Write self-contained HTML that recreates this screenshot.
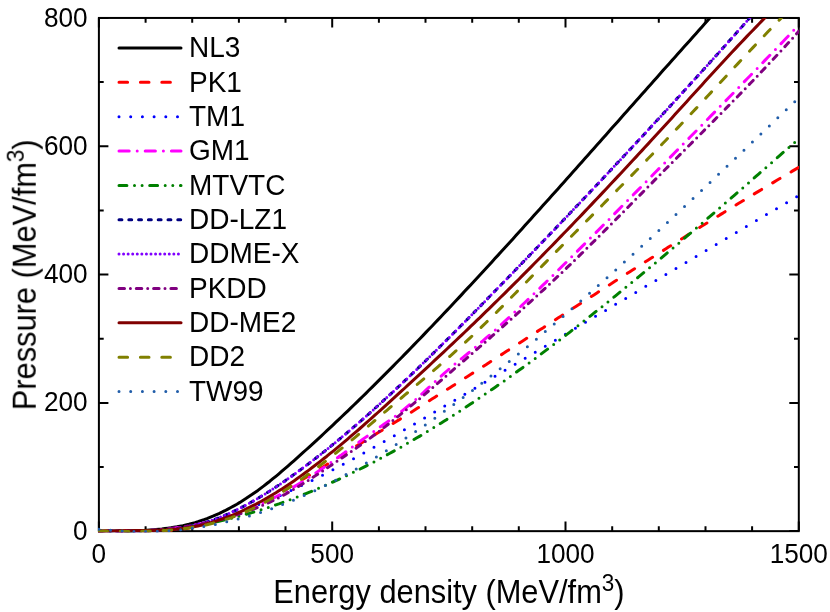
<!DOCTYPE html>
<html><head><meta charset="utf-8"><title>EOS</title>
<style>html,body{margin:0;padding:0;background:#fff;overflow:hidden}svg{display:block}text{font-family:"Liberation Sans",sans-serif;font-kerning:none}</style>
</head><body>
<svg width="830" height="612" viewBox="0 0 830 612">
<rect x="0" y="0" width="830" height="612" fill="#ffffff"/>
<defs><clipPath id="cp"><rect x="98.0" y="18.0" width="701.0" height="514.2"/></clipPath></defs>
<g stroke="#000" stroke-width="2" fill="none" stroke-linecap="butt">
<rect x="98.90" y="17.95" width="699.90" height="513.20"/>
<path d="M98.9 531.1v-9.5M98.9 17.9v9.5M145.6 531.1v-4.8M145.6 17.9v4.8M192.2 531.1v-4.8M192.2 17.9v4.8M238.9 531.1v-4.8M238.9 17.9v4.8M285.5 531.1v-4.8M285.5 17.9v4.8M332.2 531.1v-9.5M332.2 17.9v9.5M378.9 531.1v-4.8M378.9 17.9v4.8M425.5 531.1v-4.8M425.5 17.9v4.8M472.2 531.1v-4.8M472.2 17.9v4.8M518.8 531.1v-4.8M518.8 17.9v4.8M565.5 531.1v-9.5M565.5 17.9v9.5M612.2 531.1v-4.8M612.2 17.9v4.8M658.8 531.1v-4.8M658.8 17.9v4.8M705.5 531.1v-4.8M705.5 17.9v4.8M752.1 531.1v-4.8M752.1 17.9v4.8M798.8 531.1v-9.5M798.8 17.9v9.5M98.9 531.1h9.5M798.8 531.1h-9.5M98.9 467.0h4.8M798.8 467.0h-4.8M98.9 402.9h9.5M798.8 402.9h-9.5M98.9 338.7h4.8M798.8 338.7h-4.8M98.9 274.6h9.5M798.8 274.6h-9.5M98.9 210.4h4.8M798.8 210.4h-4.8M98.9 146.3h9.5M798.8 146.3h-9.5M98.9 82.1h4.8M798.8 82.1h-4.8M98.9 18.0h9.5M798.8 18.0h-9.5"/>
</g>
<g clip-path="url(#cp)" fill="none" stroke-linecap="round" stroke-linejoin="round">
<path d="M98.9 531.2L101.9 531.2L104.9 531.1L107.9 531.1L110.9 531.1L113.9 531.1L116.9 531.1L119.9 531.0L122.9 531.0L125.9 531.0L128.9 530.9L131.9 530.8L134.9 530.8L137.9 530.7L140.9 530.5L143.9 530.4L146.9 530.2L149.9 530.0L152.9 529.8L155.9 529.6L158.9 529.3L161.9 529.0L164.9 528.6L167.9 528.2L170.9 527.8L173.9 527.3L176.9 526.8L179.9 526.2L182.9 525.6L185.9 524.9L188.9 524.2L191.9 523.4L194.9 522.6L197.9 521.7L200.9 520.7L203.9 519.7L206.9 518.6L209.9 517.4L212.9 516.2L215.9 514.9L218.9 513.6L221.9 512.2L224.9 510.7L227.9 509.1L230.9 507.5L233.9 505.9L236.9 504.2L239.9 502.4L242.9 500.5L245.9 498.6L248.9 496.6L251.9 494.6L254.9 492.5L257.9 490.4L260.9 488.1L263.9 485.9L266.9 483.5L269.9 481.2L272.9 478.7L275.9 476.3L278.9 473.8L281.9 471.2L284.9 468.7L287.9 466.1L290.9 463.4L293.9 460.8L296.9 458.1L299.9 455.4L302.9 452.7L305.9 450.0L308.9 447.3L311.9 444.6L314.9 441.8L317.9 439.1L320.9 436.3L323.9 433.5L326.9 430.7L329.9 427.9L332.9 425.1L335.9 422.2L338.9 419.4L341.9 416.5L344.9 413.7L347.9 410.8L350.9 407.9L353.9 405.0L356.9 402.1L359.9 399.2L362.9 396.2L365.9 393.3L368.9 390.3L371.9 387.4L374.9 384.4L377.9 381.4L380.9 378.4L383.9 375.4L386.9 372.4L389.9 369.4L392.9 366.4L395.9 363.3L398.9 360.3L401.9 357.2L404.9 354.1L407.9 351.1L410.9 348.0L413.9 344.9L416.9 341.8L419.9 338.7L422.9 335.6L425.9 332.4L428.9 329.3L431.9 326.2L434.9 323.0L437.9 319.9L440.9 316.7L443.9 313.5L446.9 310.4L449.9 307.2L452.9 304.0L455.9 300.8L458.9 297.6L461.9 294.4L464.9 291.1L467.9 287.9L470.9 284.7L473.9 281.5L476.9 278.2L479.9 275.0L482.9 271.7L485.9 268.5L488.9 265.2L491.9 261.9L494.9 258.6L497.9 255.4L500.9 252.1L503.9 248.8L506.9 245.5L509.9 242.2L512.9 238.9L515.9 235.6L518.9 232.3L521.9 229.0L524.9 225.6L527.9 222.3L530.9 219.0L533.9 215.6L536.9 212.3L539.9 209.0L542.9 205.6L545.9 202.3L548.9 198.9L551.9 195.6L554.9 192.2L557.9 188.9L560.9 185.5L563.9 182.2L566.9 178.8L569.9 175.4L572.9 172.1L575.9 168.7L578.9 165.3L581.9 161.9L584.9 158.6L587.9 155.2L590.9 151.8L593.9 148.4L596.9 145.1L599.9 141.7L602.9 138.3L605.9 134.9L608.9 131.5L611.9 128.1L614.9 124.8L617.9 121.4L620.9 118.0L623.9 114.6L626.9 111.2L629.9 107.8L632.9 104.4L635.9 101.1L638.9 97.7L641.9 94.3L644.9 90.9L647.9 87.5L650.9 84.2L653.9 80.8L656.9 77.4L659.9 74.0L662.9 70.6L665.9 67.3L668.9 63.9L671.9 60.5L674.9 57.2L677.9 53.8L680.9 50.4L683.9 47.1L686.9 43.7L689.9 40.4L692.9 37.0L695.9 33.7L698.9 30.3L701.9 27.0L704.9 23.6L707.9 20.3L709.0 19.1L721.0 5.7" stroke="#000000" stroke-width="3.0"/>
<path d="M98.9 531.4L101.9 531.2L104.9 531.0L107.9 530.9L110.9 530.8L113.9 530.7L116.9 530.7L119.9 530.7L122.9 530.7L125.9 530.7L128.9 530.7L131.9 530.8L134.9 530.8L137.9 530.9L140.9 530.9L143.9 530.9L146.9 530.9L149.9 530.9L152.9 530.9L155.9 530.9L158.9 530.8L161.9 530.7L164.9 530.6L167.9 530.4L170.9 530.2L173.9 530.0L176.9 529.7L179.9 529.3L182.9 528.9L185.9 528.5L188.9 528.0L191.9 527.4L194.9 526.8L197.9 526.2L200.9 525.5L203.9 524.8L206.9 524.0L209.9 523.1L212.9 522.3L215.9 521.3L218.9 520.4L221.9 519.4L224.9 518.3L227.9 517.2L230.9 516.1L233.9 514.9L236.9 513.7L239.9 512.5L242.9 511.2L245.9 509.9L248.9 508.5L251.9 507.2L254.9 505.7L257.9 504.3L260.9 502.8L263.9 501.3L266.9 499.7L269.9 498.2L272.9 496.6L275.9 494.9L278.9 493.3L281.9 491.6L284.9 489.9L287.9 488.2L290.9 486.5L293.9 484.7L296.9 482.9L299.9 481.1L302.9 479.3L305.9 477.5L308.9 475.7L311.9 473.8L314.9 472.0L317.9 470.1L320.9 468.3L323.9 466.4L326.9 464.5L329.9 462.6L332.9 460.7L335.9 458.9L338.9 457.0L341.9 455.1L344.9 453.2L347.9 451.3L350.9 449.5L353.9 447.6L356.9 445.7L359.9 443.9L362.9 442.0L365.9 440.2L368.9 438.3L371.9 436.5L374.9 434.6L377.9 432.8L380.9 431.0L383.9 429.1L386.9 427.3L389.9 425.4L392.9 423.6L395.9 421.7L398.9 419.9L401.9 418.0L404.9 416.1L407.9 414.2L410.9 412.4L413.9 410.5L416.9 408.6L419.9 406.7L422.9 404.8L425.9 402.9L428.9 401.0L431.9 399.1L434.9 397.2L437.9 395.3L440.9 393.4L443.9 391.5L446.9 389.6L449.9 387.7L452.9 385.8L455.9 383.9L458.9 382.0L461.9 380.0L464.9 378.1L467.9 376.2L470.9 374.3L473.9 372.4L476.9 370.4L479.9 368.5L482.9 366.6L485.9 364.7L488.9 362.7L491.9 360.8L494.9 358.9L497.9 356.9L500.9 355.0L503.9 353.1L506.9 351.1L509.9 349.2L512.9 347.3L515.9 345.3L518.9 343.4L521.9 341.4L524.9 339.5L527.9 337.6L530.9 335.6L533.9 333.7L536.9 331.7L539.9 329.8L542.9 327.9L545.9 325.9L548.9 324.0L551.9 322.0L554.9 320.1L557.9 318.1L560.9 316.2L563.9 314.3L566.9 312.3L569.9 310.4L572.9 308.4L575.9 306.5L578.9 304.6L581.9 302.6L584.9 300.7L587.9 298.7L590.9 296.8L593.9 294.9L596.9 292.9L599.9 291.0L602.9 289.1L605.9 287.1L608.9 285.2L611.9 283.3L614.9 281.3L617.9 279.4L620.9 277.5L623.9 275.6L626.9 273.6L629.9 271.7L632.9 269.8L635.9 267.9L638.9 265.9L641.9 264.0L644.9 262.1L647.9 260.2L650.9 258.3L653.9 256.4L656.9 254.5L659.9 252.6L662.9 250.7L665.9 248.8L668.9 246.8L671.9 245.0L674.9 243.1L677.9 241.2L680.9 239.3L683.9 237.4L686.9 235.5L689.9 233.6L692.9 231.7L695.9 229.8L698.9 228.0L701.9 226.1L704.9 224.2L707.9 222.4L710.9 220.5L713.9 218.6L716.9 216.8L719.9 214.9L722.9 213.1L725.9 211.2L728.9 209.4L731.9 207.5L734.9 205.7L737.9 203.8L740.9 202.0L743.9 200.2L746.9 198.3L749.9 196.5L752.9 194.7L755.9 192.9L758.9 191.1L761.9 189.3L764.9 187.5L767.9 185.7L770.9 183.9L773.9 182.1L776.9 180.3L779.9 178.5L782.9 176.7L785.9 174.9L788.9 173.2L791.9 171.4L794.9 169.6L797.9 167.9L798.7 167.4" stroke="#ff0000" stroke-width="3.0" stroke-dasharray="8.6 12.8"/>
<path d="M98.9 529.9L101.9 530.3L104.9 530.7L107.9 531.0L110.9 531.3L113.9 531.4L116.9 531.4L119.9 531.4L122.9 531.4L125.9 531.4L128.9 531.4L131.9 531.4L134.9 531.4L137.9 531.4L140.9 531.4L143.9 531.4L146.9 531.4L149.9 531.4L152.9 531.4L155.9 531.3L158.9 531.0L161.9 530.7L164.9 530.3L167.9 529.9L170.9 529.5L173.9 529.1L176.9 528.6L179.9 528.1L182.9 527.5L185.9 527.0L188.9 526.3L191.9 525.7L194.9 525.0L197.9 524.3L200.9 523.6L203.9 522.9L206.9 522.1L209.9 521.3L212.9 520.4L215.9 519.6L218.9 518.7L221.9 517.8L224.9 516.8L227.9 515.8L230.9 514.8L233.9 513.8L236.9 512.8L239.9 511.7L242.9 510.6L245.9 509.5L248.9 508.4L251.9 507.3L254.9 506.1L257.9 504.9L260.9 503.7L263.9 502.5L266.9 501.2L269.9 499.9L272.9 498.6L275.9 497.3L278.9 496.0L281.9 494.7L284.9 493.3L287.9 492.0L290.9 490.6L293.9 489.2L296.9 487.8L299.9 486.3L302.9 484.9L305.9 483.4L308.9 482.0L311.9 480.5L314.9 479.0L317.9 477.5L320.9 476.0L323.9 474.4L326.9 472.9L329.9 471.3L332.9 469.8L335.9 468.2L338.9 466.6L341.9 465.0L344.9 463.4L347.9 461.8L350.9 460.2L353.9 458.5L356.9 456.9L359.9 455.2L362.9 453.6L365.9 451.9L368.9 450.2L371.9 448.5L374.9 446.8L377.9 445.1L380.9 443.4L383.9 441.7L386.9 440.0L389.9 438.3L392.9 436.6L395.9 434.8L398.9 433.1L401.9 431.3L404.9 429.6L407.9 427.8L410.9 426.1L413.9 424.3L416.9 422.6L419.9 420.8L422.9 419.0L425.9 417.3L428.9 415.5L431.9 413.7L434.9 411.9L437.9 410.2L440.9 408.4L443.9 406.6L446.9 404.8L449.9 403.0L452.9 401.2L455.9 399.5L458.9 397.7L461.9 395.9L464.9 394.1L467.9 392.3L470.9 390.5L473.9 388.8L476.9 387.0L479.9 385.2L482.9 383.4L485.9 381.6L488.9 379.8L491.9 378.1L494.9 376.3L497.9 374.5L500.9 372.7L503.9 370.9L506.9 369.1L509.9 367.4L512.9 365.6L515.9 363.8L518.9 362.0L521.9 360.2L524.9 358.4L527.9 356.6L530.9 354.8L533.9 353.1L536.9 351.3L539.9 349.5L542.9 347.7L545.9 345.9L548.9 344.1L551.9 342.3L554.9 340.6L557.9 338.8L560.9 337.0L563.9 335.2L566.9 333.4L569.9 331.6L572.9 329.8L575.9 328.0L578.9 326.3L581.9 324.5L584.9 322.7L587.9 320.9L590.9 319.1L593.9 317.3L596.9 315.5L599.9 313.7L602.9 312.0L605.9 310.2L608.9 308.4L611.9 306.6L614.9 304.8L617.9 303.0L620.9 301.2L623.9 299.4L626.9 297.7L629.9 295.9L632.9 294.1L635.9 292.3L638.9 290.5L641.9 288.7L644.9 286.9L647.9 285.1L650.9 283.4L653.9 281.6L656.9 279.8L659.9 278.0L662.9 276.2L665.9 274.4L668.9 272.6L671.9 270.8L674.9 269.1L677.9 267.3L680.9 265.5L683.9 263.7L686.9 261.9L689.9 260.1L692.9 258.3L695.9 256.6L698.9 254.8L701.9 253.0L704.9 251.2L707.9 249.4L710.9 247.6L713.9 245.8L716.9 244.1L719.9 242.3L722.9 240.5L725.9 238.7L728.9 236.9L731.9 235.1L734.9 233.4L737.9 231.6L740.9 229.8L743.9 228.0L746.9 226.2L749.9 224.4L752.9 222.7L755.9 220.9L758.9 219.1L761.9 217.3L764.9 215.5L767.9 213.8L770.9 212.0L773.9 210.2L776.9 208.4L779.9 206.6L782.9 204.9L785.9 203.1L788.9 201.3L791.9 199.5L794.9 197.7L797.9 196.0L798.8 195.4" stroke="#0000ff" stroke-width="3.0" stroke-dasharray="0 11.7"/>
<path d="M98.9 531.1L101.9 531.2L104.9 531.3L107.9 531.3L110.9 531.4L113.9 531.4L116.9 531.4L119.9 531.4L122.9 531.4L125.9 531.4L128.9 531.3L131.9 531.3L134.9 531.2L137.9 531.1L140.9 531.0L143.9 530.8L146.9 530.7L149.9 530.5L152.9 530.3L155.9 530.1L158.9 529.8L161.9 529.5L164.9 529.2L167.9 528.9L170.9 528.6L173.9 528.2L176.9 527.8L179.9 527.4L182.9 526.9L185.9 526.5L188.9 526.0L191.9 525.4L194.9 524.9L197.9 524.3L200.9 523.6L203.9 523.0L206.9 522.3L209.9 521.6L212.9 520.8L215.9 520.1L218.9 519.2L221.9 518.4L224.9 517.5L227.9 516.6L230.9 515.6L233.9 514.6L236.9 513.6L239.9 512.5L242.9 511.4L245.9 510.3L248.9 509.1L251.9 507.9L254.9 506.6L257.9 505.3L260.9 504.0L263.9 502.6L266.9 501.2L269.9 499.8L272.9 498.3L275.9 496.8L278.9 495.2L281.9 493.6L284.9 492.0L287.9 490.3L290.9 488.6L293.9 486.9L296.9 485.1L299.9 483.2L302.9 481.4L305.9 479.5L308.9 477.5L311.9 475.6L314.9 473.6L317.9 471.5L320.9 469.5L323.9 467.4L326.9 465.3L329.9 463.2L332.9 461.1L335.9 458.9L338.9 456.8L341.9 454.6L344.9 452.4L347.9 450.2L350.9 448.0L353.9 445.9L356.9 443.7L359.9 441.5L362.9 439.3L365.9 437.1L368.9 435.0L371.9 432.8L374.9 430.7L377.9 428.5L380.9 426.4L383.9 424.3L386.9 422.2L389.9 420.1L392.9 417.9L395.9 415.7L398.9 413.4L401.9 411.1L404.9 408.7L407.9 406.2L410.9 403.7L413.9 401.1L416.9 398.4L419.9 395.7L422.9 393.0L425.9 390.2L428.9 387.4L431.9 384.7L434.9 381.9L437.9 379.1L440.9 376.4L443.9 373.7L446.9 371.0L449.9 368.4L452.9 365.8L455.9 363.3L458.9 360.8L461.9 358.4L464.9 355.9L467.9 353.5L470.9 351.0L473.9 348.5L476.9 346.0L479.9 343.4L482.9 340.8L485.9 338.2L488.9 335.6L491.9 332.9L494.9 330.3L497.9 327.6L500.9 324.9L503.9 322.1L506.9 319.4L509.9 316.6L512.9 313.8L515.9 311.0L518.9 308.2L521.9 305.4L524.9 302.5L527.9 299.7L530.9 296.8L533.9 293.9L536.9 291.0L539.9 288.1L542.9 285.2L545.9 282.3L548.9 279.3L551.9 276.4L554.9 273.4L557.9 270.5L560.9 267.5L563.9 264.5L566.9 261.6L569.9 258.6L572.9 255.6L575.9 252.6L578.9 249.6L581.9 246.6L584.9 243.6L587.9 240.6L590.9 237.6L593.9 234.6L596.9 231.6L599.9 228.6L602.9 225.5L605.9 222.5L608.9 219.5L611.9 216.5L614.9 213.4L617.9 210.4L620.9 207.3L623.9 204.3L626.9 201.3L629.9 198.2L632.9 195.2L635.9 192.1L638.9 189.1L641.9 186.0L644.9 183.0L647.9 179.9L650.9 176.9L653.9 173.8L656.9 170.8L659.9 167.7L662.9 164.7L665.9 161.7L668.9 158.6L671.9 155.6L674.9 152.5L677.9 149.5L680.9 146.4L683.9 143.4L686.9 140.3L689.9 137.3L692.9 134.2L695.9 131.2L698.9 128.1L701.9 125.1L704.9 122.0L707.9 119.0L710.9 115.9L713.9 112.9L716.9 109.8L719.9 106.7L722.9 103.7L725.9 100.6L728.9 97.5L731.9 94.5L734.9 91.4L737.9 88.3L740.9 85.2L743.9 82.1L746.9 79.0L749.9 76.0L752.9 72.9L755.9 69.8L758.9 66.7L761.9 63.6L764.9 60.4L767.9 57.3L770.9 54.2L773.9 51.1L776.9 47.9L779.9 44.8L782.9 41.7L785.9 38.5L788.9 35.4L791.9 32.2L794.9 29.1L797.9 25.9L799.0 24.7" stroke="#ff00ff" stroke-width="3.0" stroke-dasharray="10.29 8.07 0 8.07" stroke-dashoffset="8.88"/>
<path d="M98.9 530.9L101.9 531.1L104.9 531.3L107.9 531.4L110.9 531.4L113.9 531.4L116.9 531.4L119.9 531.4L122.9 531.4L125.9 531.4L128.9 531.4L131.9 531.4L134.9 531.4L137.9 531.4L140.9 531.4L143.9 531.4L146.9 531.3L149.9 531.1L152.9 530.9L155.9 530.7L158.9 530.5L161.9 530.2L164.9 530.0L167.9 529.6L170.9 529.3L173.9 529.0L176.9 528.6L179.9 528.2L182.9 527.8L185.9 527.4L188.9 526.9L191.9 526.4L194.9 525.9L197.9 525.4L200.9 524.9L203.9 524.3L206.9 523.7L209.9 523.1L212.9 522.5L215.9 521.9L218.9 521.2L221.9 520.5L224.9 519.8L227.9 519.1L230.9 518.4L233.9 517.6L236.9 516.8L239.9 516.0L242.9 515.2L245.9 514.3L248.9 513.5L251.9 512.6L254.9 511.7L257.9 510.8L260.9 509.9L263.9 508.9L266.9 507.9L269.9 506.9L272.9 505.9L275.9 504.9L278.9 503.9L281.9 502.8L284.9 501.7L287.9 500.6L290.9 499.5L293.9 498.4L296.9 497.2L299.9 496.0L302.9 494.8L305.9 493.6L308.9 492.4L311.9 491.2L314.9 489.9L317.9 488.6L320.9 487.4L323.9 486.0L326.9 484.7L329.9 483.4L332.9 482.0L335.9 480.7L338.9 479.3L341.9 477.9L344.9 476.4L347.9 475.0L350.9 473.6L353.9 472.1L356.9 470.6L359.9 469.1L362.9 467.6L365.9 466.1L368.9 464.5L371.9 463.0L374.9 461.4L377.9 459.8L380.9 458.2L383.9 456.6L386.9 454.9L389.9 453.3L392.9 451.6L395.9 450.0L398.9 448.3L401.9 446.6L404.9 444.8L407.9 443.1L410.9 441.4L413.9 439.6L416.9 437.8L419.9 436.1L422.9 434.3L425.9 432.4L428.9 430.6L431.9 428.8L434.9 426.9L437.9 425.1L440.9 423.2L443.9 421.3L446.9 419.4L449.9 417.5L452.9 415.6L455.9 413.6L458.9 411.7L461.9 409.7L464.9 407.8L467.9 405.8L470.9 403.8L473.9 401.8L476.9 399.7L479.9 397.7L482.9 395.7L485.9 393.6L488.9 391.6L491.9 389.5L494.9 387.4L497.9 385.3L500.9 383.2L503.9 381.1L506.9 378.9L509.9 376.8L512.9 374.7L515.9 372.5L518.9 370.3L521.9 368.2L524.9 366.0L527.9 363.8L530.9 361.6L533.9 359.4L536.9 357.1L539.9 354.9L542.9 352.6L545.9 350.4L548.9 348.1L551.9 345.9L554.9 343.6L557.9 341.3L560.9 339.0L563.9 336.7L566.9 334.4L569.9 332.1L572.9 329.7L575.9 327.4L578.9 325.0L581.9 322.7L584.9 320.3L587.9 318.0L590.9 315.6L593.9 313.2L596.9 310.8L599.9 308.4L602.9 306.0L605.9 303.6L608.9 301.2L611.9 298.8L614.9 296.3L617.9 293.9L620.9 291.4L623.9 289.0L626.9 286.5L629.9 284.1L632.9 281.6L635.9 279.1L638.9 276.7L641.9 274.2L644.9 271.7L647.9 269.2L650.9 266.7L653.9 264.2L656.9 261.6L659.9 259.1L662.9 256.6L665.9 254.1L668.9 251.5L671.9 249.0L674.9 246.5L677.9 243.9L680.9 241.4L683.9 238.8L686.9 236.2L689.9 233.7L692.9 231.1L695.9 228.5L698.9 226.0L701.9 223.4L704.9 220.8L707.9 218.2L710.9 215.6L713.9 213.0L716.9 210.4L719.9 207.8L722.9 205.2L725.9 202.6L728.9 200.0L731.9 197.4L734.9 194.8L737.9 192.2L740.9 189.6L743.9 186.9L746.9 184.3L749.9 181.7L752.9 179.1L755.9 176.4L758.9 173.8L761.9 171.2L764.9 168.5L767.9 165.9L770.9 163.3L773.9 160.6L776.9 158.0L779.9 155.4L782.9 152.7L785.9 150.1L788.9 147.4L791.9 144.8L794.9 142.2L795.0 142.1" stroke="#008000" stroke-width="3.0" stroke-dasharray="7.9 7.6 0 7.6 0 7.6" stroke-dashoffset="4.5"/>
<path d="M98.9 531.0L101.9 531.0L104.9 531.0L107.9 531.0L110.9 531.0L113.9 531.0L116.9 531.0L119.9 531.0L122.9 531.0L125.9 531.0L128.9 531.1L131.9 531.1L134.9 531.0L137.9 531.0L140.9 531.0L143.9 530.9L146.9 530.9L149.9 530.8L152.9 530.7L155.9 530.5L158.9 530.4L161.9 530.2L164.9 529.9L167.9 529.7L170.9 529.4L173.9 529.0L176.9 528.7L179.9 528.2L182.9 527.7L185.9 527.2L188.9 526.6L191.9 526.0L194.9 525.3L197.9 524.6L200.9 523.8L203.9 522.9L206.9 522.0L209.9 521.0L212.9 520.0L215.9 518.9L218.9 517.7L221.9 516.5L224.9 515.3L227.9 513.9L230.9 512.6L233.9 511.2L236.9 509.7L239.9 508.2L242.9 506.7L245.9 505.1L248.9 503.5L251.9 501.8L254.9 500.1L257.9 498.3L260.9 496.5L263.9 494.7L266.9 492.8L269.9 490.9L272.9 489.0L275.9 487.0L278.9 485.0L281.9 483.0L284.9 480.9L287.9 478.8L290.9 476.7L293.9 474.6L296.9 472.4L299.9 470.2L302.9 468.0L305.9 465.7L308.9 463.5L311.9 461.2L314.9 458.9L317.9 456.5L320.9 454.2L323.9 451.8L326.9 449.4L329.9 447.0L332.9 444.5L335.9 442.1L338.9 439.6L341.9 437.1L344.9 434.6L347.9 432.0L350.9 429.5L353.9 426.9L356.9 424.3L359.9 421.7L362.9 419.1L365.9 416.4L368.9 413.8L371.9 411.1L374.9 408.4L377.9 405.7L380.9 403.0L383.9 400.2L386.9 397.5L389.9 394.7L392.9 391.9L395.9 389.1L398.9 386.3L401.9 383.5L404.9 380.7L407.9 377.8L410.9 374.9L413.9 372.1L416.9 369.2L419.9 366.3L422.9 363.4L425.9 360.5L428.9 357.5L431.9 354.6L434.9 351.7L437.9 348.7L440.9 345.7L443.9 342.8L446.9 339.8L449.9 336.8L452.9 333.8L455.9 330.8L458.9 327.8L461.9 324.7L464.9 321.7L467.9 318.7L470.9 315.6L473.9 312.6L476.9 309.5L479.9 306.5L482.9 303.4L485.9 300.3L488.9 297.3L491.9 294.2L494.9 291.1L497.9 288.0L500.9 285.0L503.9 281.9L506.9 278.8L509.9 275.7L512.9 272.6L515.9 269.5L518.9 266.4L521.9 263.3L524.9 260.2L527.9 257.1L530.9 254.0L533.9 250.8L536.9 247.7L539.9 244.6L542.9 241.5L545.9 238.4L548.9 235.2L551.9 232.1L554.9 229.0L557.9 225.8L560.9 222.7L563.9 219.6L566.9 216.4L569.9 213.3L572.9 210.1L575.9 206.9L578.9 203.8L581.9 200.6L584.9 197.5L587.9 194.3L590.9 191.1L593.9 188.0L596.9 184.8L599.9 181.6L602.9 178.4L605.9 175.2L608.9 172.0L611.9 168.8L614.9 165.6L617.9 162.4L620.9 159.2L623.9 156.0L626.9 152.8L629.9 149.6L632.9 146.4L635.9 143.2L638.9 139.9L641.9 136.7L644.9 133.5L647.9 130.2L650.9 127.0L653.9 123.7L656.9 120.5L659.9 117.2L662.9 114.0L665.9 110.7L668.9 107.5L671.9 104.2L674.9 100.9L677.9 97.6L680.9 94.4L683.9 91.1L686.9 87.8L689.9 84.5L692.9 81.2L695.9 77.9L698.9 74.6L701.9 71.3L704.9 68.0L707.9 64.7L710.9 61.3L713.9 58.0L716.9 54.7L719.9 51.4L722.9 48.0L725.9 44.7L728.9 41.3L731.9 38.0L734.9 34.6L737.9 31.2L740.9 27.9L743.9 24.5L746.9 21.1L749.8 17.9L761.8 4.4" stroke="#000080" stroke-width="3.0" stroke-dasharray="2.9 6.9"/>
<path d="M98.9 531.0L101.9 531.0L104.9 531.0L107.9 531.0L110.9 531.0L113.9 531.0L116.9 531.0L119.9 531.0L122.9 531.0L125.9 531.0L128.9 531.1L131.9 531.1L134.9 531.0L137.9 531.0L140.9 531.0L143.9 530.9L146.9 530.9L149.9 530.8L152.9 530.7L155.9 530.5L158.9 530.4L161.9 530.2L164.9 529.9L167.9 529.7L170.9 529.4L173.9 529.0L176.9 528.7L179.9 528.2L182.9 527.7L185.9 527.2L188.9 526.6L191.9 526.0L194.9 525.3L197.9 524.6L200.9 523.8L203.9 522.9L206.9 522.0L209.9 521.0L212.9 520.0L215.9 518.9L218.9 517.7L221.9 516.5L224.9 515.3L227.9 513.9L230.9 512.6L233.9 511.2L236.9 509.7L239.9 508.2L242.9 506.7L245.9 505.1L248.9 503.5L251.9 501.8L254.9 500.1L257.9 498.3L260.9 496.5L263.9 494.7L266.9 492.8L269.9 490.9L272.9 489.0L275.9 487.0L278.9 485.0L281.9 483.0L284.9 480.9L287.9 478.8L290.9 476.7L293.9 474.6L296.9 472.4L299.9 470.2L302.9 468.0L305.9 465.7L308.9 463.5L311.9 461.2L314.9 458.9L317.9 456.5L320.9 454.2L323.9 451.8L326.9 449.4L329.9 447.0L332.9 444.5L335.9 442.1L338.9 439.6L341.9 437.1L344.9 434.6L347.9 432.0L350.9 429.5L353.9 426.9L356.9 424.3L359.9 421.7L362.9 419.1L365.9 416.4L368.9 413.8L371.9 411.1L374.9 408.4L377.9 405.7L380.9 403.0L383.9 400.2L386.9 397.5L389.9 394.7L392.9 391.9L395.9 389.1L398.9 386.3L401.9 383.5L404.9 380.7L407.9 377.8L410.9 374.9L413.9 372.1L416.9 369.2L419.9 366.3L422.9 363.4L425.9 360.5L428.9 357.5L431.9 354.6L434.9 351.7L437.9 348.7L440.9 345.7L443.9 342.8L446.9 339.8L449.9 336.8L452.9 333.8L455.9 330.8L458.9 327.8L461.9 324.7L464.9 321.7L467.9 318.7L470.9 315.6L473.9 312.6L476.9 309.5L479.9 306.5L482.9 303.4L485.9 300.3L488.9 297.3L491.9 294.2L494.9 291.1L497.9 288.0L500.9 285.0L503.9 281.9L506.9 278.8L509.9 275.7L512.9 272.6L515.9 269.5L518.9 266.4L521.9 263.3L524.9 260.2L527.9 257.1L530.9 254.0L533.9 250.8L536.9 247.7L539.9 244.6L542.9 241.5L545.9 238.4L548.9 235.2L551.9 232.1L554.9 229.0L557.9 225.8L560.9 222.7L563.9 219.6L566.9 216.4L569.9 213.3L572.9 210.1L575.9 206.9L578.9 203.8L581.9 200.6L584.9 197.5L587.9 194.3L590.9 191.1L593.9 188.0L596.9 184.8L599.9 181.6L602.9 178.4L605.9 175.2L608.9 172.0L611.9 168.8L614.9 165.6L617.9 162.4L620.9 159.2L623.9 156.0L626.9 152.8L629.9 149.6L632.9 146.4L635.9 143.2L638.9 139.9L641.9 136.7L644.9 133.5L647.9 130.2L650.9 127.0L653.9 123.7L656.9 120.5L659.9 117.2L662.9 114.0L665.9 110.7L668.9 107.5L671.9 104.2L674.9 100.9L677.9 97.6L680.9 94.4L683.9 91.1L686.9 87.8L689.9 84.5L692.9 81.2L695.9 77.9L698.9 74.6L701.9 71.3L704.9 68.0L707.9 64.7L710.9 61.3L713.9 58.0L716.9 54.7L719.9 51.4L722.9 48.0L725.9 44.7L728.9 41.3L731.9 38.0L734.9 34.6L737.9 31.2L740.9 27.9L743.9 24.5L746.9 21.1L749.8 17.9L761.8 4.4" stroke="#8000ff" stroke-width="3.0" stroke-dasharray="0 4.57"/>
<path d="M98.9 531.2L101.9 531.3L104.9 531.3L107.9 531.4L110.9 531.4L113.9 531.4L116.9 531.4L119.9 531.4L122.9 531.4L125.9 531.4L128.9 531.3L131.9 531.2L134.9 531.2L137.9 531.0L140.9 530.9L143.9 530.8L146.9 530.6L149.9 530.4L152.9 530.2L155.9 529.9L158.9 529.7L161.9 529.4L164.9 529.1L167.9 528.8L170.9 528.5L173.9 528.1L176.9 527.7L179.9 527.3L182.9 526.9L185.9 526.4L188.9 526.0L191.9 525.5L194.9 524.9L197.9 524.4L200.9 523.8L203.9 523.2L206.9 522.6L209.9 521.9L212.9 521.3L215.9 520.6L218.9 519.8L221.9 519.1L224.9 518.3L227.9 517.5L230.9 516.6L233.9 515.7L236.9 514.8L239.9 513.9L242.9 512.9L245.9 511.9L248.9 510.8L251.9 509.7L254.9 508.5L257.9 507.3L260.9 506.1L263.9 504.8L266.9 503.5L269.9 502.1L272.9 500.7L275.9 499.2L278.9 497.6L281.9 496.0L284.9 494.4L287.9 492.7L290.9 491.0L293.9 489.2L296.9 487.5L299.9 485.6L302.9 483.8L305.9 481.9L308.9 480.0L311.9 478.0L314.9 476.1L317.9 474.1L320.9 472.1L323.9 470.1L326.9 468.1L329.9 466.1L332.9 464.1L335.9 462.1L338.9 460.0L341.9 458.0L344.9 455.9L347.9 453.9L350.9 451.8L353.9 449.7L356.9 447.6L359.9 445.5L362.9 443.3L365.9 441.1L368.9 439.0L371.9 436.8L374.9 434.5L377.9 432.3L380.9 430.0L383.9 427.7L386.9 425.3L389.9 423.0L392.9 420.6L395.9 418.2L398.9 415.8L401.9 413.3L404.9 410.9L407.9 408.4L410.9 405.9L413.9 403.4L416.9 400.9L419.9 398.4L422.9 395.9L425.9 393.3L428.9 390.8L431.9 388.2L434.9 385.6L437.9 383.1L440.9 380.5L443.9 377.9L446.9 375.3L449.9 372.7L452.9 370.1L455.9 367.5L458.9 364.9L461.9 362.3L464.9 359.8L467.9 357.2L470.9 354.6L473.9 351.9L476.9 349.3L479.9 346.7L482.9 344.1L485.9 341.5L488.9 338.9L491.9 336.2L494.9 333.6L497.9 330.9L500.9 328.3L503.9 325.6L506.9 323.0L509.9 320.3L512.9 317.6L515.9 314.9L518.9 312.2L521.9 309.5L524.9 306.8L527.9 304.1L530.9 301.4L533.9 298.6L536.9 295.9L539.9 293.1L542.9 290.3L545.9 287.6L548.9 284.8L551.9 282.0L554.9 279.1L557.9 276.3L560.9 273.5L563.9 270.6L566.9 267.7L569.9 264.9L572.9 262.0L575.9 259.0L578.9 256.1L581.9 253.2L584.9 250.3L587.9 247.3L590.9 244.3L593.9 241.4L596.9 238.4L599.9 235.4L602.9 232.4L605.9 229.4L608.9 226.4L611.9 223.4L614.9 220.4L617.9 217.4L620.9 214.3L623.9 211.3L626.9 208.3L629.9 205.2L632.9 202.2L635.9 199.2L638.9 196.1L641.9 193.1L644.9 190.0L647.9 187.0L650.9 184.0L653.9 180.9L656.9 177.9L659.9 174.9L662.9 171.8L665.9 168.8L668.9 165.8L671.9 162.8L674.9 159.8L677.9 156.8L680.9 153.7L683.9 150.7L686.9 147.7L689.9 144.7L692.9 141.7L695.9 138.7L698.9 135.7L701.9 132.7L704.9 129.6L707.9 126.6L710.9 123.6L713.9 120.6L716.9 117.5L719.9 114.5L722.9 111.5L725.9 108.4L728.9 105.4L731.9 102.3L734.9 99.2L737.9 96.2L740.9 93.1L743.9 90.0L746.9 86.9L749.9 83.8L752.9 80.7L755.9 77.5L758.9 74.4L761.9 71.2L764.9 68.1L767.9 64.9L770.9 61.7L773.9 58.5L776.9 55.3L779.9 52.1L782.9 48.8L785.9 45.5L788.9 42.3L791.9 39.0L794.9 35.7L797.9 32.3L799.0 31.1" stroke="#800080" stroke-width="3.0" stroke-dasharray="5.5 5.9 0 5.9"/>
<path d="M98.9 531.4L101.9 531.4L104.9 531.2L107.9 531.1L110.9 531.0L113.9 530.9L116.9 530.8L119.9 530.8L122.9 530.7L125.9 530.7L128.9 530.7L131.9 530.7L134.9 530.6L137.9 530.6L140.9 530.6L143.9 530.6L146.9 530.5L149.9 530.5L152.9 530.4L155.9 530.3L158.9 530.2L161.9 530.1L164.9 530.0L167.9 529.8L170.9 529.6L173.9 529.4L176.9 529.1L179.9 528.8L182.9 528.4L185.9 528.0L188.9 527.6L191.9 527.1L194.9 526.6L197.9 526.0L200.9 525.3L203.9 524.6L206.9 523.8L209.9 523.0L212.9 522.1L215.9 521.2L218.9 520.2L221.9 519.2L224.9 518.1L227.9 517.0L230.9 515.8L233.9 514.6L236.9 513.3L239.9 512.0L242.9 510.6L245.9 509.2L248.9 507.7L251.9 506.2L254.9 504.7L257.9 503.1L260.9 501.5L263.9 499.8L266.9 498.1L269.9 496.3L272.9 494.5L275.9 492.7L278.9 490.8L281.9 488.9L284.9 486.9L287.9 484.9L290.9 482.9L293.9 480.9L296.9 478.8L299.9 476.6L302.9 474.5L305.9 472.3L308.9 470.1L311.9 467.8L314.9 465.5L317.9 463.2L320.9 460.9L323.9 458.5L326.9 456.2L329.9 453.7L332.9 451.3L335.9 448.8L338.9 446.4L341.9 443.9L344.9 441.3L347.9 438.8L350.9 436.2L353.9 433.7L356.9 431.1L359.9 428.5L362.9 425.8L365.9 423.2L368.9 420.5L371.9 417.9L374.9 415.2L377.9 412.5L380.9 409.8L383.9 407.1L386.9 404.4L389.9 401.6L392.9 398.9L395.9 396.2L398.9 393.4L401.9 390.7L404.9 388.0L407.9 385.2L410.9 382.4L413.9 379.7L416.9 376.9L419.9 374.2L422.9 371.4L425.9 368.6L428.9 365.8L431.9 363.0L434.9 360.2L437.9 357.4L440.9 354.6L443.9 351.8L446.9 349.0L449.9 346.2L452.9 343.3L455.9 340.5L458.9 337.7L461.9 334.8L464.9 332.0L467.9 329.1L470.9 326.2L473.9 323.3L476.9 320.4L479.9 317.6L482.9 314.6L485.9 311.7L488.9 308.8L491.9 305.9L494.9 302.9L497.9 300.0L500.9 297.0L503.9 294.1L506.9 291.1L509.9 288.1L512.9 285.1L515.9 282.2L518.9 279.2L521.9 276.1L524.9 273.1L527.9 270.1L530.9 267.1L533.9 264.0L536.9 261.0L539.9 258.0L542.9 254.9L545.9 251.8L548.9 248.8L551.9 245.7L554.9 242.6L557.9 239.5L560.9 236.4L563.9 233.3L566.9 230.2L569.9 227.1L572.9 224.0L575.9 220.8L578.9 217.7L581.9 214.6L584.9 211.4L587.9 208.3L590.9 205.1L593.9 201.9L596.9 198.8L599.9 195.6L602.9 192.4L605.9 189.2L608.9 186.0L611.9 182.8L614.9 179.6L617.9 176.4L620.9 173.2L623.9 170.0L626.9 166.8L629.9 163.5L632.9 160.3L635.9 157.1L638.9 153.8L641.9 150.6L644.9 147.3L647.9 144.1L650.9 140.8L653.9 137.5L656.9 134.3L659.9 131.0L662.9 127.7L665.9 124.4L668.9 121.2L671.9 117.9L674.9 114.6L677.9 111.3L680.9 108.0L683.9 104.7L686.9 101.4L689.9 98.1L692.9 94.8L695.9 91.5L698.9 88.2L701.9 84.9L704.9 81.6L707.9 78.3L710.9 75.0L713.9 71.8L716.9 68.5L719.9 65.3L722.9 62.0L725.9 58.8L728.9 55.5L731.9 52.3L734.9 49.1L737.9 45.9L740.9 42.7L743.9 39.6L746.9 36.4L749.9 33.3L752.9 30.2L755.9 27.1L758.9 24.0L761.9 20.9L764.3 18.5L776.3 6.3" stroke="#800000" stroke-width="3.0"/>
<path d="M98.9 531.0L101.9 531.1L104.9 531.1L107.9 531.2L110.9 531.2L113.9 531.2L116.9 531.3L119.9 531.3L122.9 531.3L125.9 531.4L128.9 531.4L131.9 531.4L134.9 531.4L137.9 531.4L140.9 531.3L143.9 531.3L146.9 531.2L149.9 531.2L152.9 531.1L155.9 530.9L158.9 530.8L161.9 530.6L164.9 530.5L167.9 530.3L170.9 530.0L173.9 529.8L176.9 529.5L179.9 529.1L182.9 528.8L185.9 528.4L188.9 528.0L191.9 527.5L194.9 527.0L197.9 526.5L200.9 525.9L203.9 525.3L206.9 524.7L209.9 524.0L212.9 523.2L215.9 522.4L218.9 521.6L221.9 520.7L224.9 519.8L227.9 518.8L230.9 517.8L233.9 516.7L236.9 515.5L239.9 514.3L242.9 513.1L245.9 511.8L248.9 510.4L251.9 509.0L254.9 507.5L257.9 506.0L260.9 504.4L263.9 502.8L266.9 501.2L269.9 499.5L272.9 497.7L275.9 495.9L278.9 494.1L281.9 492.2L284.9 490.3L287.9 488.4L290.9 486.4L293.9 484.4L296.9 482.3L299.9 480.3L302.9 478.1L305.9 476.0L308.9 473.8L311.9 471.6L314.9 469.4L317.9 467.1L320.9 464.8L323.9 462.5L326.9 460.2L329.9 457.8L332.9 455.4L335.9 453.0L338.9 450.6L341.9 448.2L344.9 445.7L347.9 443.3L350.9 440.8L353.9 438.3L356.9 435.8L359.9 433.3L362.9 430.7L365.9 428.2L368.9 425.6L371.9 423.1L374.9 420.5L377.9 418.0L380.9 415.4L383.9 412.8L386.9 410.3L389.9 407.7L392.9 405.1L395.9 402.6L398.9 400.0L401.9 397.5L404.9 394.9L407.9 392.4L410.9 389.8L413.9 387.3L416.9 384.7L419.9 382.2L422.9 379.6L425.9 377.1L428.9 374.5L431.9 371.9L434.9 369.4L437.9 366.8L440.9 364.2L443.9 361.5L446.9 358.9L449.9 356.3L452.9 353.6L455.9 350.9L458.9 348.2L461.9 345.5L464.9 342.7L467.9 339.9L470.9 337.1L473.9 334.3L476.9 331.4L479.9 328.6L482.9 325.7L485.9 322.7L488.9 319.8L491.9 316.8L494.9 313.9L497.9 310.9L500.9 307.9L503.9 304.9L506.9 301.8L509.9 298.8L512.9 295.8L515.9 292.7L518.9 289.6L521.9 286.6L524.9 283.5L527.9 280.5L530.9 277.4L533.9 274.3L536.9 271.3L539.9 268.2L542.9 265.1L545.9 262.1L548.9 259.0L551.9 256.0L554.9 252.9L557.9 249.9L560.9 246.9L563.9 243.8L566.9 240.8L569.9 237.8L572.9 234.7L575.9 231.7L578.9 228.7L581.9 225.7L584.9 222.6L587.9 219.6L590.9 216.6L593.9 213.6L596.9 210.5L599.9 207.5L602.9 204.5L605.9 201.4L608.9 198.4L611.9 195.4L614.9 192.3L617.9 189.3L620.9 186.3L623.9 183.2L626.9 180.2L629.9 177.1L632.9 174.1L635.9 171.0L638.9 168.0L641.9 164.9L644.9 161.8L647.9 158.8L650.9 155.7L653.9 152.6L656.9 149.5L659.9 146.4L662.9 143.3L665.9 140.2L668.9 137.0L671.9 133.9L674.9 130.8L677.9 127.6L680.9 124.5L683.9 121.3L686.9 118.2L689.9 115.0L692.9 111.8L695.9 108.6L698.9 105.4L701.9 102.2L704.9 99.0L707.9 95.8L710.9 92.6L713.9 89.3L716.9 86.1L719.9 82.9L722.9 79.7L725.9 76.5L728.9 73.3L731.9 70.0L734.9 66.8L737.9 63.6L740.9 60.4L743.9 57.2L746.9 54.0L749.9 50.8L752.9 47.6L755.9 44.4L758.9 41.3L761.9 38.1L764.9 35.0L767.9 31.8L770.9 28.7L773.9 25.6L776.9 22.5L779.9 19.4L781.2 18.0L793.2 5.7" stroke="#808000" stroke-width="3.0" stroke-dasharray="8.6 12.8"/>
<path d="M98.9 529.2L101.9 529.5L104.9 529.8L107.9 530.1L110.9 530.4L113.9 530.6L116.9 530.8L119.9 531.0L122.9 531.1L125.9 531.3L128.9 531.4L131.9 531.4L134.9 531.4L137.9 531.4L140.9 531.4L143.9 531.4L146.9 531.4L149.9 531.4L152.9 531.4L155.9 531.3L158.9 531.2L161.9 531.1L164.9 530.9L167.9 530.7L170.9 530.5L173.9 530.3L176.9 530.0L179.9 529.7L182.9 529.4L185.9 529.0L188.9 528.7L191.9 528.3L194.9 527.9L197.9 527.4L200.9 527.0L203.9 526.5L206.9 526.0L209.9 525.4L212.9 524.9L215.9 524.3L218.9 523.6L221.9 523.0L224.9 522.3L227.9 521.6L230.9 520.9L233.9 520.2L236.9 519.4L239.9 518.6L242.9 517.8L245.9 516.9L248.9 516.1L251.9 515.2L254.9 514.3L257.9 513.3L260.9 512.3L263.9 511.3L266.9 510.3L269.9 509.3L272.9 508.2L275.9 507.1L278.9 506.0L281.9 504.8L284.9 503.6L287.9 502.4L290.9 501.2L293.9 500.0L296.9 498.7L299.9 497.4L302.9 496.1L305.9 494.7L308.9 493.4L311.9 492.0L314.9 490.6L317.9 489.1L320.9 487.7L323.9 486.2L326.9 484.7L329.9 483.2L332.9 481.6L335.9 480.1L338.9 478.5L341.9 476.9L344.9 475.2L347.9 473.6L350.9 471.9L353.9 470.2L356.9 468.5L359.9 466.8L362.9 465.1L365.9 463.3L368.9 461.5L371.9 459.7L374.9 457.9L377.9 456.1L380.9 454.2L383.9 452.4L386.9 450.5L389.9 448.6L392.9 446.6L395.9 444.7L398.9 442.8L401.9 440.8L404.9 438.8L407.9 436.8L410.9 434.8L413.9 432.7L416.9 430.7L419.9 428.6L422.9 426.6L425.9 424.5L428.9 422.4L431.9 420.3L434.9 418.1L437.9 416.0L440.9 413.8L443.9 411.7L446.9 409.5L449.9 407.3L452.9 405.1L455.9 402.8L458.9 400.6L461.9 398.4L464.9 396.1L467.9 393.8L470.9 391.6L473.9 389.3L476.9 387.0L479.9 384.7L482.9 382.3L485.9 380.0L488.9 377.6L491.9 375.3L494.9 372.9L497.9 370.5L500.9 368.2L503.9 365.8L506.9 363.3L509.9 360.9L512.9 358.5L515.9 356.1L518.9 353.6L521.9 351.1L524.9 348.7L527.9 346.2L530.9 343.7L533.9 341.2L536.9 338.7L539.9 336.2L542.9 333.7L545.9 331.1L548.9 328.6L551.9 326.0L554.9 323.5L557.9 320.9L560.9 318.3L563.9 315.7L566.9 313.2L569.9 310.6L572.9 307.9L575.9 305.3L578.9 302.7L581.9 300.1L584.9 297.4L587.9 294.8L590.9 292.1L593.9 289.5L596.9 286.8L599.9 284.1L602.9 281.5L605.9 278.8L608.9 276.1L611.9 273.4L614.9 270.7L617.9 268.0L620.9 265.3L623.9 262.5L626.9 259.8L629.9 257.1L632.9 254.3L635.9 251.6L638.9 248.8L641.9 246.1L644.9 243.3L647.9 240.6L650.9 237.8L653.9 235.0L656.9 232.2L659.9 229.5L662.9 226.7L665.9 223.9L668.9 221.1L671.9 218.3L674.9 215.5L677.9 212.7L680.9 209.9L683.9 207.1L686.9 204.2L689.9 201.4L692.9 198.6L695.9 195.8L698.9 192.9L701.9 190.1L704.9 187.3L707.9 184.4L710.9 181.6L713.9 178.7L716.9 175.9L719.9 173.1L722.9 170.2L725.9 167.4L728.9 164.5L731.9 161.6L734.9 158.8L737.9 155.9L740.9 153.1L743.9 150.2L746.9 147.3L749.9 144.5L752.9 141.6L755.9 138.8L758.9 135.9L761.9 133.0L764.9 130.2L767.9 127.3L770.9 124.4L773.9 121.6L776.9 118.7L779.9 115.8L782.9 113.0L785.9 110.1L788.9 107.2L791.9 104.4L794.8 101.6L806.8 90.1" stroke="#215da9" stroke-width="3.0" stroke-dasharray="0 11.7"/>
</g>
<g fill="none" stroke-linecap="round">
<path d="M119 48.0H181" stroke="#000000" stroke-width="3.0"/>
<path d="M119 82.3H181" stroke="#ff0000" stroke-width="3.0" stroke-dasharray="8.6 12.8"/>
<path d="M119 116.7H181" stroke="#0000ff" stroke-width="3.0" stroke-dasharray="0 11.7"/>
<path d="M119 151.1H181" stroke="#ff00ff" stroke-width="3.0" stroke-dasharray="10.2 8 0 8"/>
<path d="M119 185.4H181" stroke="#008000" stroke-width="3.0" stroke-dasharray="7.9 7.6 0 7.6 0 7.6"/>
<path d="M119 219.8H181" stroke="#000080" stroke-width="3.0" stroke-dasharray="2.9 6.9"/>
<path d="M119 254.1H181" stroke="#8000ff" stroke-width="3.0" stroke-dasharray="0 4.57"/>
<path d="M119 288.5H181" stroke="#800080" stroke-width="3.0" stroke-dasharray="5.5 5.9 0 5.9"/>
<path d="M119 322.8H181" stroke="#800000" stroke-width="3.0"/>
<path d="M119 357.2H181" stroke="#808000" stroke-width="3.0" stroke-dasharray="8.6 12.8"/>
<path d="M119 391.5H181" stroke="#215da9" stroke-width="3.0" stroke-dasharray="0 11.7"/>
</g>
<g font-family="Liberation Sans, sans-serif" fill="#000" opacity="0.999">
<text transform="translate(189.0 57.2) scale(1 1.06)" font-size="28">NL3</text>
<text transform="translate(189.0 91.5) scale(1 1.06)" font-size="28">PK1</text>
<text transform="translate(189.0 125.9) scale(1 1.06)" font-size="28">TM1</text>
<text transform="translate(189.0 160.2) scale(1 1.06)" font-size="28">GM1</text>
<text transform="translate(189.0 194.6) scale(1 1.06)" font-size="28">MTVTC</text>
<text transform="translate(189.0 228.9) scale(1 1.06)" font-size="28">DD-LZ1</text>
<text transform="translate(189.0 263.3) scale(1 1.06)" font-size="28">DDME-X</text>
<text transform="translate(189.0 297.7) scale(1 1.06)" font-size="28">PKDD</text>
<text transform="translate(189.0 332.0) scale(1 1.06)" font-size="28">DD-ME2</text>
<text transform="translate(189.0 366.4) scale(1 1.06)" font-size="28">DD2</text>
<text transform="translate(189.0 400.7) scale(1 1.06)" font-size="28">TW99</text>
<text transform="translate(98.9 562.9) scale(1 1.045)" font-size="26.2" text-anchor="middle">0</text>
<text transform="translate(332.2 562.9) scale(1 1.045)" font-size="26.2" text-anchor="middle">500</text>
<text transform="translate(565.5 562.9) scale(1 1.045)" font-size="26.2" text-anchor="middle">1000</text>
<text transform="translate(798.8 562.9) scale(1 1.045)" font-size="26.2" text-anchor="middle">1500</text>
<text transform="translate(87.6 539.6) scale(1 1.045)" font-size="26.2" text-anchor="end">0</text>
<text transform="translate(87.6 411.4) scale(1 1.045)" font-size="26.2" text-anchor="end">200</text>
<text transform="translate(87.6 283.1) scale(1 1.045)" font-size="26.2" text-anchor="end">400</text>
<text transform="translate(87.6 154.8) scale(1 1.045)" font-size="26.2" text-anchor="end">600</text>
<text transform="translate(87.6 26.5) scale(1 1.045)" font-size="26.2" text-anchor="end">800</text>
<text transform="translate(273.3 603.0) scale(1 1.05)" font-size="30.8">Energy density (MeV/fm<tspan font-size="22.5" dy="-11.0">3</tspan><tspan dy="11.0">)</tspan></text>
<text transform="translate(35.3 410.2) rotate(-90) scale(1 1.08)" font-size="30.8">Pressure (MeV/fm<tspan font-size="22.5" dy="-11.0">3</tspan><tspan dy="11.0">)</tspan></text>
</g>
</svg>
</body></html>
